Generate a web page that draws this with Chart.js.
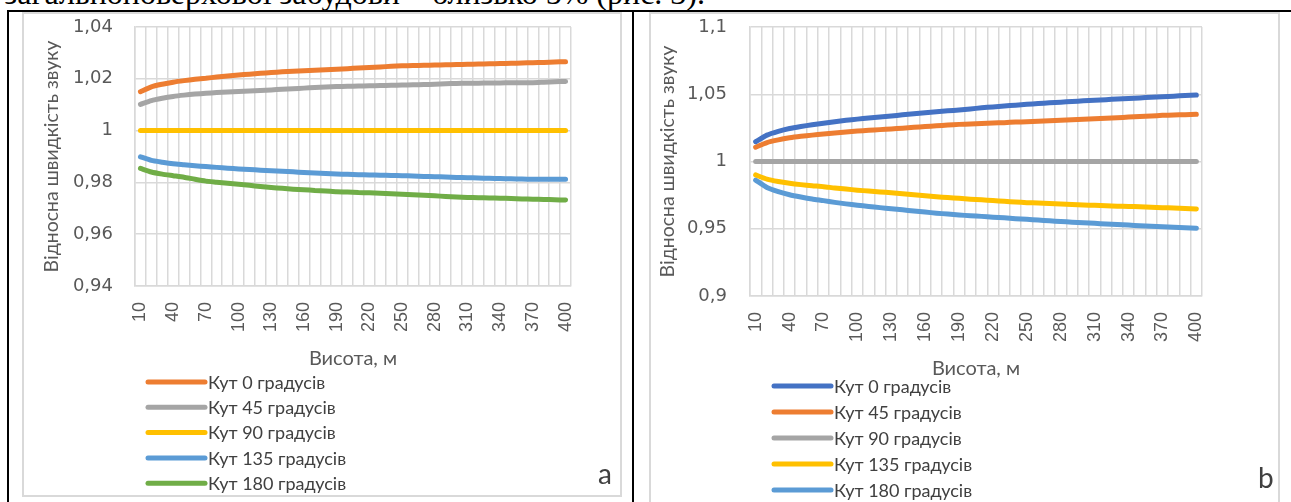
<!DOCTYPE html>
<html>
<head>
<meta charset="utf-8">
<script src="https://cdn.jsdelivr.net/npm/chart.js@4.4.1/dist/chart.umd.min.js"></script>
<style>
  html, body { margin: 0; padding: 0; background: #fff; }
  body { width: 1291px; height: 502px; overflow: hidden; position: relative; }
  .rule { position: absolute; background: #000; }
  .box { position: absolute; border: 2px solid #d9d9d9; box-sizing: border-box; background: #fff; }
  .box canvas { position: absolute; left: 0; top: 0; }
  .tag { position: absolute; font-family: Lato, sans-serif; font-size: 28px; color: #404040; line-height: 1; }
  #para { position: absolute; right: 586px; top: -26px; font-family: "Liberation Serif", serif; font-size: 32px; white-space: nowrap; color: #000; line-height: 1.2; }
</style>
</head>
<body>
<div id="para">загальноповерхової забудови – близько 5% (рис. 3).</div>
<div class="rule" style="left:7px; top:10px; width:1284px; height:2px;"></div>
<div class="rule" style="left:7px; top:10px; width:2px; height:492px;"></div>
<div class="rule" style="left:632px; top:10px; width:2px; height:492px;"></div>

<div class="box" style="left:22px; top:12px; width:600px; height:485px;">
  <canvas id="chartA" width="596" height="481"></canvas>
  <div class="tag" style="left:574px; top:445px;">a</div>
</div>
<div class="box" style="left:649px; top:12px; width:631px; height:500px;">
  <canvas id="chartB" width="627" height="488"></canvas>
  <div class="tag" style="left:607px; top:449px;">b</div>
</div>

<script>
// Height above ground, m
const heights = [10, 20, 30, 40, 50, 60, 70, 80, 90, 100,
  110, 120, 130, 140, 150, 160, 170, 180, 190, 200,
  210, 220, 230, 240, 250, 260, 270, 280, 290, 300,
  310, 320, 330, 340, 350, 360, 370, 380, 390, 400];

// Panel a: relative speed of sound by wind angle
const a_angle0 = [1.0150, 1.0169, 1.0179, 1.0187, 1.0193, 1.0198, 1.0202, 1.0207, 1.0211, 1.0215,
  1.0218, 1.0221, 1.0224, 1.0227, 1.0229, 1.0231, 1.0233, 1.0235, 1.0237, 1.0239,
  1.0242, 1.0244, 1.0246, 1.0248, 1.0250, 1.0251, 1.0252, 1.0253, 1.0254, 1.0255,
  1.0256, 1.0257, 1.0258, 1.0259, 1.0260, 1.0261, 1.0262, 1.0263, 1.0265, 1.0266];
const a_angle45 = [1.0101, 1.0116, 1.0125, 1.0132, 1.0137, 1.0141, 1.0144, 1.0147, 1.0149, 1.0151,
  1.0153, 1.0155, 1.0157, 1.0160, 1.0162, 1.0164, 1.0166, 1.0168, 1.0170, 1.0171,
  1.0172, 1.0173, 1.0174, 1.0175, 1.0176, 1.0177, 1.0178, 1.0179, 1.0181, 1.0182,
  1.0183, 1.0183, 1.0184, 1.0184, 1.0185, 1.0185, 1.0185, 1.0187, 1.0189, 1.0190];
const a_angle90 = [1, 1, 1, 1, 1, 1, 1, 1, 1, 1,
  1, 1, 1, 1, 1, 1, 1, 1, 1, 1,
  1, 1, 1, 1, 1, 1, 1, 1, 1, 1,
  1, 1, 1, 1, 1, 1, 1, 1, 1, 1];
const a_angle135 = [0.9899, 0.9885, 0.9878, 0.9872, 0.9868, 0.9864, 0.9861, 0.9858, 0.9855, 0.9852,
  0.9850, 0.9847, 0.9845, 0.9843, 0.9841, 0.9838, 0.9836, 0.9834, 0.9832, 0.9831,
  0.9830, 0.9829, 0.9828, 0.9827, 0.9826, 0.9825, 0.9823, 0.9822, 0.9821, 0.9819,
  0.9818, 0.9817, 0.9816, 0.9815, 0.9814, 0.9813, 0.9812, 0.9812, 0.9812, 0.9812];
const a_angle180 = [0.9854, 0.9840, 0.9832, 0.9826, 0.9820, 0.9812, 0.9805, 0.9801, 0.9797, 0.9793,
  0.9789, 0.9784, 0.9780, 0.9777, 0.9774, 0.9772, 0.9769, 0.9767, 0.9764, 0.9763,
  0.9761, 0.9760, 0.9758, 0.9756, 0.9754, 0.9752, 0.9750, 0.9748, 0.9746, 0.9744,
  0.9742, 0.9741, 0.9740, 0.9739, 0.9738, 0.9736, 0.9735, 0.9734, 0.9733, 0.9732];

// Panel b
const b_angle0 = [1.0147, 1.0196, 1.0224, 1.0245, 1.0260, 1.0273, 1.0284, 1.0296, 1.0306, 1.0315,
  1.0323, 1.0331, 1.0338, 1.0347, 1.0355, 1.0363, 1.0370, 1.0377, 1.0383, 1.0391,
  1.0399, 1.0406, 1.0413, 1.0419, 1.0425, 1.0431, 1.0436, 1.0441, 1.0446, 1.0451,
  1.0456, 1.0460, 1.0465, 1.0469, 1.0473, 1.0477, 1.0481, 1.0486, 1.0490, 1.0494];
const b_angle45 = [1.0106, 1.0141, 1.0161, 1.0176, 1.0187, 1.0196, 1.0204, 1.0212, 1.0219, 1.0226,
  1.0232, 1.0237, 1.0242, 1.0248, 1.0254, 1.0260, 1.0265, 1.0271, 1.0276, 1.0279,
  1.0283, 1.0286, 1.0289, 1.0293, 1.0296, 1.0300, 1.0303, 1.0307, 1.0311, 1.0314,
  1.0318, 1.0322, 1.0326, 1.0330, 1.0335, 1.0339, 1.0343, 1.0346, 1.0348, 1.0351];
const b_angle90 = [1, 1, 1, 1, 1, 1, 1, 1, 1, 1,
  1, 1, 1, 1, 1, 1, 1, 1, 1, 1,
  1, 1, 1, 1, 1, 1, 1, 1, 1, 1,
  1, 1, 1, 1, 1, 1, 1, 1, 1, 1];
const b_angle135 = [0.9900, 0.9869, 0.9851, 0.9838, 0.9828, 0.9820, 0.9813, 0.9803, 0.9795, 0.9787,
  0.9780, 0.9774, 0.9768, 0.9760, 0.9752, 0.9745, 0.9738, 0.9732, 0.9726, 0.9720,
  0.9715, 0.9710, 0.9704, 0.9699, 0.9694, 0.9691, 0.9687, 0.9684, 0.9680, 0.9677,
  0.9674, 0.9671, 0.9668, 0.9666, 0.9663, 0.9660, 0.9657, 0.9654, 0.9650, 0.9647];
const b_angle180 = [0.9862, 0.9807, 0.9776, 0.9753, 0.9736, 0.9721, 0.9709, 0.9696, 0.9685, 0.9675,
  0.9666, 0.9657, 0.9649, 0.9641, 0.9632, 0.9624, 0.9616, 0.9609, 0.9602, 0.9597,
  0.9592, 0.9586, 0.9581, 0.9575, 0.9570, 0.9565, 0.9559, 0.9554, 0.9549, 0.9544,
  0.9540, 0.9536, 0.9531, 0.9527, 0.9523, 0.9519, 0.9515, 0.9511, 0.9507, 0.9503];

const seriesNames = ['Кут 0 градусів', 'Кут 45 градусів', 'Кут 90 градусів', 'Кут 135 градусів', 'Кут 180 градусів'];
const yTitle = 'Відносна швидкість звуку';
const xTitle = 'Висота, м';

const ORANGE = '#ED7D31', GREY = '#A5A5A5', YELLOW = '#FFC000',
      BLUE = '#5B9BD5', GREEN = '#70AD47', NAVY = '#4472C4';
const GRID = '#d9d9d9', AXIS_TEXT = '#595959', CLEAR = 'rgba(0,0,0,0)';

// Vertical legend list drawn under the plot, one series per row
const stackedLegend = {
  id: 'stackedLegend',
  afterDraw(chart, args, o) {
    const ctx = chart.ctx;
    ctx.save();
    ctx.font = '18px Lato';
    ctx.textBaseline = 'middle';
    ctx.textAlign = 'left';
    chart.data.datasets.forEach((ds, i) => {
      const y = o.y0 + i * o.step;
      ctx.strokeStyle = ds.borderColor;
      ctx.lineWidth = 5;
      ctx.lineCap = 'round';
      ctx.beginPath();
      ctx.moveTo(o.x0, y);
      ctx.lineTo(o.x1, y);
      ctx.stroke();
      ctx.fillStyle = '#404040';
      ctx.fillText(ds.label, o.x1 + 3, y + 1);
    });
    ctx.restore();
  }
};

const comma = v => (Math.round(v * 100) / 100).toString().replace('.', ',');

function lineSet(label, data, color) {
  return {
    label, data, borderColor: color, backgroundColor: color,
    borderWidth: 5, pointRadius: 0, borderCapStyle: 'round', borderJoinStyle: 'round',
    tension: 0.2, fill: false
  };
}

function makeChart(id, sets, yMin, yMax, step, geo) {
  return new Chart(document.getElementById(id), {
    type: 'line',
    data: { labels: heights, datasets: sets },
    plugins: [stackedLegend],
    options: {
      responsive: false,
      animation: false,
      devicePixelRatio: 1,
      layout: { padding: { left: 0, top: geo.top, right: geo.right, bottom: geo.bottom } },
      plugins: {
        legend: { display: false },
        tooltip: { enabled: false },
        stackedLegend: geo.legend
      },
      scales: {
        x: {
          type: 'category',
          offset: true,
          grid: { offset: true, color: GRID, lineWidth: 1.5, drawTicks: true,
                  tickLength: geo.xPad, tickColor: CLEAR },
          border: { color: GRID, width: 1.5 },
          ticks: {
            autoSkip: false, minRotation: 90, maxRotation: 90, padding: 0,
            color: AXIS_TEXT, font: { family: 'Liberation Sans', size: 18 },
            callback: function (v, i) { return i % 3 === 0 ? String(heights[i]) : ''; }
          },
          title: { display: true, text: xTitle, color: AXIS_TEXT,
                   font: { family: 'Lato', size: 20 }, padding: { top: 0, bottom: 0 } },
          afterFit: s => { s.height = geo.xHeight; }
        },
        y: {
          min: yMin, max: yMax,
          grid: { color: GRID, lineWidth: 1.5, drawTicks: true,
                  tickLength: geo.yPad, tickColor: CLEAR },
          border: { color: GRID, width: 1.5 },
          ticks: { stepSize: step, padding: 0, color: AXIS_TEXT,
                   font: { family: 'DejaVu Sans', size: 18 }, callback: v => comma(v) },
          title: { display: true, text: yTitle, color: AXIS_TEXT,
                   font: { family: 'Lato', size: 19.5 }, padding: { top: geo.yTitlePad, bottom: 0 } },
          afterFit: s => { s.width = geo.yWidth; }
        }
      }
    }
  });
}

makeChart('chartA', [
  lineSet(seriesNames[0], a_angle0, ORANGE),
  lineSet(seriesNames[1], a_angle45, GREY),
  lineSet(seriesNames[2], a_angle90, YELLOW),
  lineSet(seriesNames[3], a_angle135, BLUE),
  lineSet(seriesNames[4], a_angle180, GREEN)
], 0.94, 1.04, 0.02, {
  top: 13, right: 49, bottom: 124, xHeight: 85, yWidth: 111,
  xPad: 16, yPad: 22, yTitlePad: 16,
  legend: { x0: 124, x1: 181, y0: 368, step: 25.3 }
});

makeChart('chartB', [
  lineSet(seriesNames[0], b_angle0, NAVY),
  lineSet(seriesNames[1], b_angle45, ORANGE),
  lineSet(seriesNames[2], b_angle90, GREY),
  lineSet(seriesNames[3], b_angle135, YELLOW),
  lineSet(seriesNames[4], b_angle180, BLUE)
], 0.9, 1.1, 0.05, {
  top: 13, right: 76, bottom: 121, xHeight: 85, yWidth: 99,
  xPad: 16, yPad: 23, yTitlePad: 5,
  legend: { x0: 123, x1: 180, y0: 372, step: 26 }
});
</script>
</body>
</html>
